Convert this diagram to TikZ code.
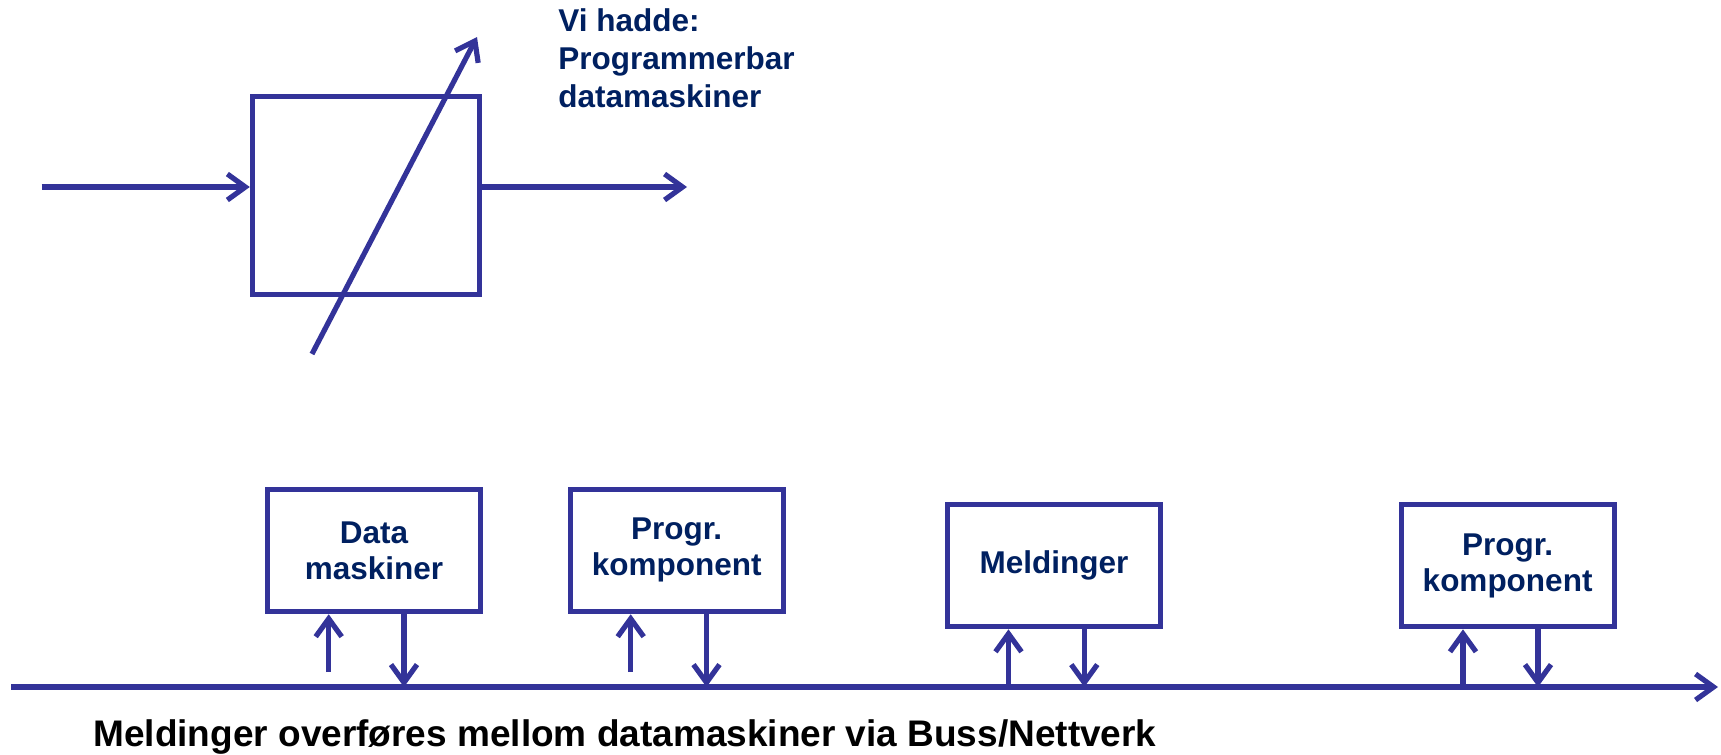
\documentclass[tikz,border=0pt]{standalone}
\usepackage{fontspec}
\setmainfont{Liberation Sans}
\usetikzlibrary{arrows.meta}
\definecolor{linkblue}{RGB}{51,51,153}
\definecolor{labelnavy}{RGB}{0,32,96}
\begin{document}
\begin{tikzpicture}[x=0.5pt,y=-0.5pt,
  wire/.style={draw=linkblue,line width=2.6pt},
  tip/.style={-{Straight Barb[length=9pt,width=13pt]}},
  unit/.style={draw=linkblue,line width=2.6pt,minimum width=106.5pt,
    minimum height=61.25pt,inner sep=0pt,align=center,
    font=\bfseries\fontsize{15.75}{18}\selectfont,text=labelnavy}]
\useasboundingbox (0,0) rectangle (1721,755);

% programmable block with input, output and adjustment arrow
\node[draw=linkblue,line width=2.6pt,minimum width=113.6pt,minimum height=98.8pt,inner sep=0pt]
  (proc) at (366,195.4) {};
\coordinate (src) at (41.7,187);
\coordinate (sink) at (687,187);
\draw[wire,tip] (src) -- (src -| proc.west);
\draw[wire,tip] (sink -| proc.east) -- (sink);
\coordinate (knobA) at (312,354);
\coordinate (knobB) at (477,37);
\draw[wire,tip] (knobA) -- (knobB);

\node[anchor=base west,align=left,inner sep=0pt,text=labelnavy,
  font=\bfseries\fontsize{15.75}{18.9}\selectfont] (note) at (558,107.3)
  {Vi hadde:\\Programmerbar\\datamaskiner};

% components on the bus
\node[unit] (dm) at (374,550.4) {Data\\maskiner};
\node[unit] (pk1) at (676.7,550.4) {Progr.\\komponent};
\node[unit] (ml) at (1054,565.5) {Meldinger};
\node[unit] (pk2) at (1507.6,565.5) {Progr.\\komponent};

\coordinate (busL) at (11,687);
\coordinate (busR) at (1718,687);
\draw[wire,tip] (busL) -- (busR);

\coordinate (u1) at (328.7,672);
\coordinate (d1) at (404,687);
\coordinate (u2) at (630.7,672);
\coordinate (d2) at (706.5,687);
\coordinate (u3) at (1008.5,687);
\coordinate (d3) at (1084.3,687);
\coordinate (u4) at (1463,687);
\coordinate (d4) at (1538,687);

\draw[wire,tip] (u1) -- (u1 |- dm.south);
\draw[wire,tip] (d1 |- dm.south) -- (d1);
\draw[wire,tip] (u2) -- (u2 |- pk1.south);
\draw[wire,tip] (d2 |- pk1.south) -- (d2);
\draw[wire,tip] (u3) -- (u3 |- ml.south);
\draw[wire,tip] (d3 |- ml.south) -- (d3);
\draw[wire,tip] (u4) -- (u4 |- pk2.south);
\draw[wire,tip] (d4 |- pk2.south) -- (d4);

\node[anchor=base west,inner sep=0pt,font=\bfseries\fontsize{18.5}{22}\selectfont]
  (caption) at (93,746) {Meldinger overføres mellom datamaskiner via Buss/Nettverk};
\end{tikzpicture}
\end{document}
